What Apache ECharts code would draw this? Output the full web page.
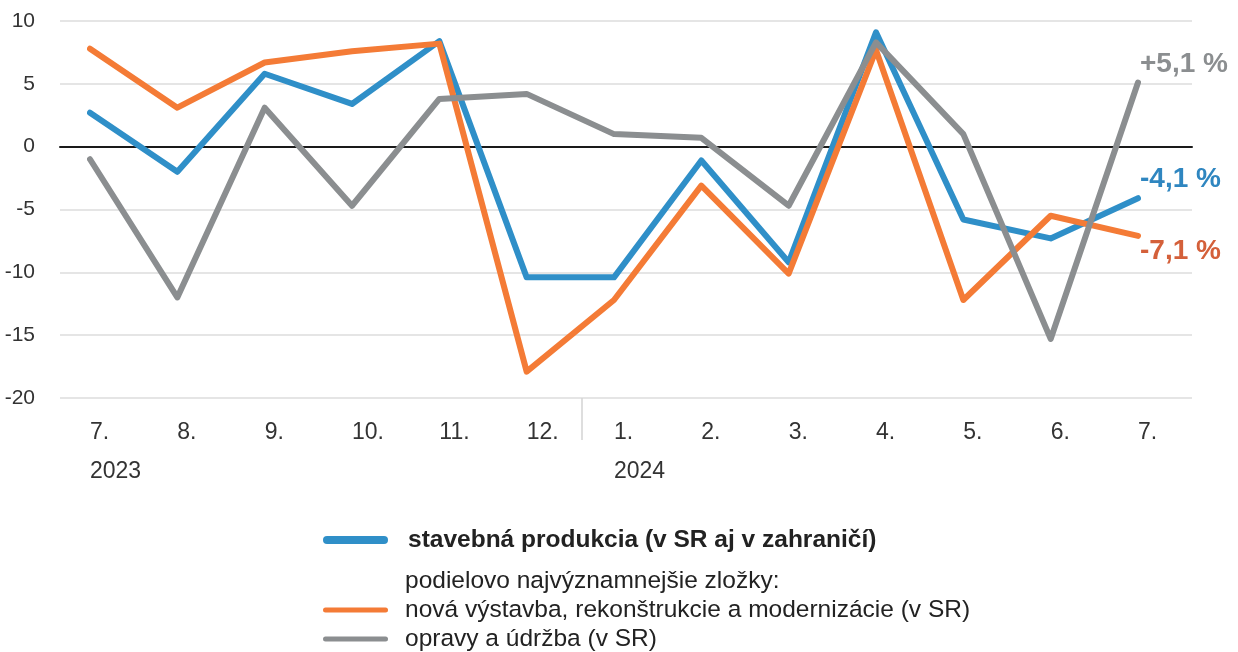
<!DOCTYPE html>
<html>
<head>
<meta charset="utf-8">
<script src="https://cdn.jsdelivr.net/npm/echarts@6/dist/echarts.min.js"></script>
<style>
html,body{margin:0;padding:0;background:#fff;}
#c{width:1238px;height:652px;}
</style>
</head>
<body>
<div id="c"></div>
<script>
// ---- data ----
var months = ['7.', '8.', '9.', '10.', '11.', '12.', '1.', '2.', '3.', '4.', '5.', '6.', '7.'];
var years = ['2023', '', '', '', '', '', '2024', '', '', '', '', '', ''];
var yTicks = [-20, -15, -10, -5, 0, 5, 10];
var stavebna = [2.7, -2.0, 5.8, 3.4, 8.4, -10.4, -10.4, -1.1, -9.2, 9.1, -5.8, -7.3, -4.1];
var novaVystavba = [7.8, 3.1, 6.7, 7.6, 8.2, -17.9, -12.2, -3.1, -10.1, 7.7, -12.2, -5.5, -7.1];
var opravy = [-1.0, -12.0, 3.1, -4.7, 3.8, 4.2, 1.0, 0.7, -4.7, 8.3, 1.0, -15.3, 5.1];
var endLabels = ['-4,1 %', '-7,1 %', '+5,1 %'];
var seriesNames = ['stavebná produkcia (v SR aj v zahraničí)', 'nová výstavba, rekonštrukcie a modernizácie (v SR)', 'opravy a údržba (v SR)'];
var legendSubtitle = 'podielovo najvýznamnejšie zložky:';
var yearBoundary = [5.63];

var FONT = '"Liberation Sans", Arial, sans-serif';
var C_BLUE = '#2f8fc8', C_ORANGE = '#f47b36', C_GRAY = '#8b8e90';
var pillThick = 'path://M4,0 L61,0 A4,4 0 0 1 61,8 L4,8 A4,4 0 0 1 4,0 Z';
var pillThin = 'path://M2.5,0 L62.5,0 A2.5,2.5 0 0 1 62.5,5 L2.5,5 A2.5,2.5 0 0 1 2.5,0 Z';

var chart = echarts.init(document.getElementById('c'), null, {renderer: 'canvas'});

function mkLine(name, data, color, label, lcolor, off) {
  return {
    name: name, type: 'line', data: data, xAxisIndex: 0, yAxisIndex: 0,
    symbol: 'none', smooth: false, animation: false,
    lineStyle: {color: color, width: 6, cap: 'round', join: 'round'},
    itemStyle: {color: color},
    endLabel: {
      show: true, formatter: label, distance: 2, offset: off,
      color: lcolor, fontFamily: FONT, fontSize: 28, fontWeight: 'bold'
    }
  };
}

chart.setOption({
  animation: false,
  backgroundColor: '#fff',
  textStyle: {fontFamily: FONT},
  title: {
    text: legendSubtitle, left: 405, top: 568, padding: 0,
    textStyle: {fontFamily: FONT, fontSize: 24.5, fontWeight: 'normal', color: '#222', lineHeight: 26}
  },
  grid: [
    {left: 90, right: 100, top: 21, bottom: 254},
    {left: 60, right: 46, top: 21, bottom: 254}
  ],
  xAxis: [
    {
      type: 'category', gridIndex: 0, data: months, boundaryGap: false,
      axisLine: {show: false, onZero: false}, axisTick: {show: false}, splitLine: {show: false},
      axisLabel: {
        interval: 0, align: 'left', margin: 15, color: '#333', fontFamily: FONT, fontSize: 23, lineHeight: 39,
        formatter: function (v, i) { return years[i] ? v + '\n' + years[i] : v; }
      }
    },
    {
      type: 'value', gridIndex: 0, min: 0, max: 12, position: 'bottom',
      axisLine: {show: false, onZero: false}, axisLabel: {show: false}, splitLine: {show: false},
      axisTick: {show: true, customValues: yearBoundary, length: 42, lineStyle: {color: '#d3d3d3', width: 1.5}}
    },
    {
      type: 'value', gridIndex: 1, min: 0, max: 1,
      axisLine: {show: true, onZero: true, lineStyle: {color: '#1a1a1a', width: 2}},
      axisTick: {show: false}, axisLabel: {show: false}, splitLine: {show: false}
    }
  ],
  yAxis: [
    {type: 'value', gridIndex: 0, min: -20, max: 10, interval: 5, show: false},
    {
      type: 'value', gridIndex: 1, min: yTicks[0], max: yTicks[yTicks.length - 1], interval: 5,
      axisLine: {show: false}, axisTick: {show: false},
      axisLabel: {margin: 25, color: '#333', fontFamily: FONT, fontSize: 21},
      splitLine: {show: true, lineStyle: {color: '#dcdcdc', width: 1.5}}
    }
  ],
  legend: [
    {
      data: [seriesNames[0]], left: 323, top: 527, padding: 0, orient: 'vertical',
      icon: pillThick, itemWidth: 65, itemHeight: 8,
      textStyle: {fontFamily: FONT, fontSize: 24.5, fontWeight: 'bold', color: '#222', lineHeight: 26, padding: [0, 0, 0, 15]}
    },
    {
      data: [seriesNames[1], seriesNames[2]], left: 323, top: 597, padding: 0, orient: 'vertical',
      icon: pillThin, itemWidth: 65, itemHeight: 5, itemGap: 3,
      textStyle: {fontFamily: FONT, fontSize: 24.5, color: '#222', lineHeight: 26, padding: [0, 0, 0, 12]}
    }
  ],
  series: [
    mkLine(seriesNames[0], stavebna, C_BLUE, endLabels[0], '#2f86c0', [0, -19]),
    mkLine(seriesNames[1], novaVystavba, C_ORANGE, endLabels[1], '#d4603a', [0, 15]),
    mkLine(seriesNames[2], opravy, C_GRAY, endLabels[2], '#8b8e90', [0, -18])
  ]
});
</script>
</body>
</html>
